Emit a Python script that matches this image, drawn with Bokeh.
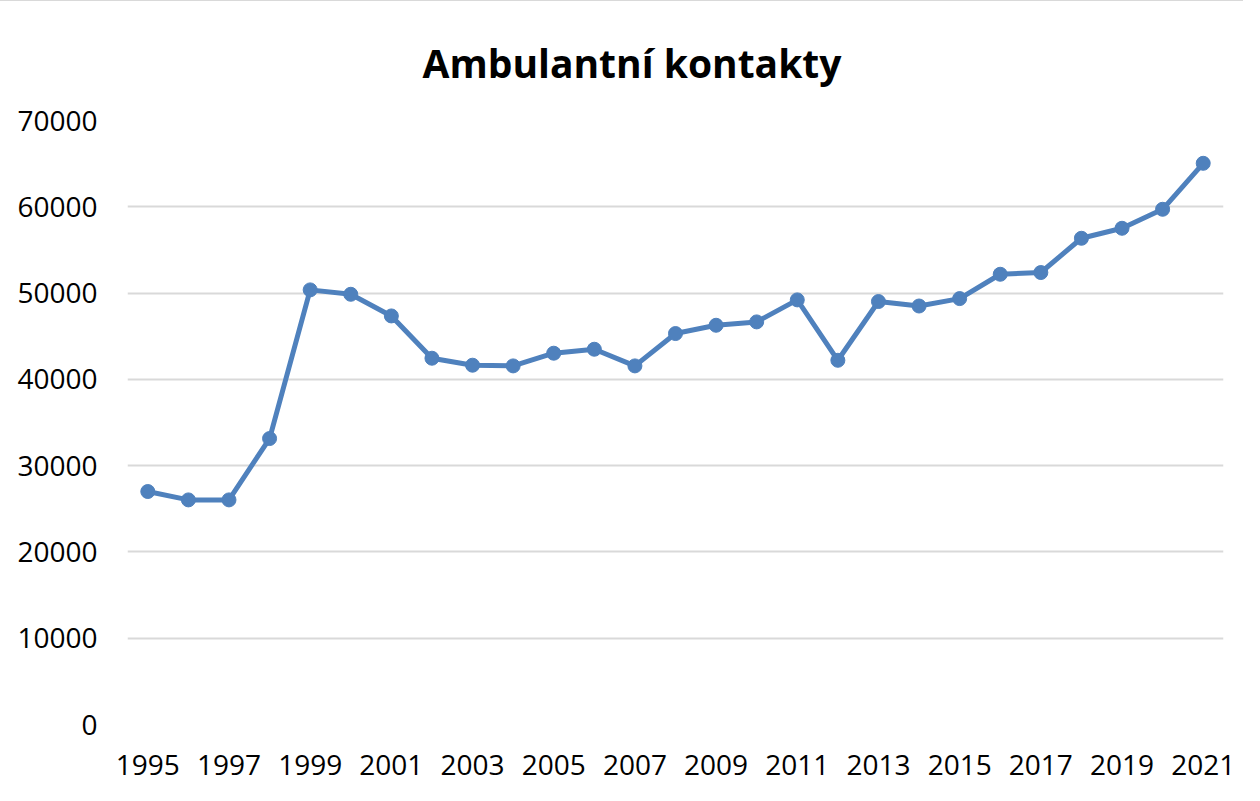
from bokeh.plotting import figure
from bokeh.models import FixedTicker, NumeralTickFormatter, Title, ColumnDataSource, Range1d
from bokeh.embed import file_html
from bokeh.resources import INLINE

years = list(range(1995, 2022))
values = [27000, 26030, 26030, 33140, 50370, 49860, 47350, 42450, 41640, 41560,
          43030, 43490, 41560, 45310, 46270, 46660, 49210, 42210, 49020, 48500,
          49360, 52180, 52380, 56350, 57510, 59710, 65040]
x_ticks = list(range(1995, 2022, 2))
y_ticks = list(range(0, 70001, 10000))
title_text = "Ambulantní kontakty"

src = ColumnDataSource(dict(year=years, value=values))

p = figure(width=1245, height=784, output_backend="svg", toolbar_location=None,
           x_range=Range1d(1994.5, 2021.5), y_range=Range1d(0, 70000),
           min_border_left=128, min_border_right=21, min_border_top=119, min_border_bottom=61)
p.title = Title(text=title_text, text_font="Open Sans", text_font_size="39px",
                text_font_style="bold", text_color="#000000", align="left",
                offset=295, standoff=64)

p.line("year", "value", source=src, line_color="#4f81bd", line_width=5)
p.scatter("year", "value", source=src, size=14, fill_color="#4f81bd", line_color="#4f81bd")

p.outline_line_color = None
p.background_fill_color = "white"
p.border_fill_color = "white"

p.xgrid.grid_line_color = None
p.ygrid.grid_line_color = "#d9d9d9"
p.ygrid.grid_line_width = 2
p.ygrid.ticker = FixedTicker(ticks=y_ticks)

for ax in (p.xaxis[0], p.yaxis[0]):
    ax.axis_line_color = None
    ax.major_tick_line_color = None
    ax.minor_tick_line_color = None
    ax.major_label_text_font = "Open Sans"
    ax.major_label_text_font_size = "28px"
    ax.major_label_text_color = "#000000"

p.xaxis[0].ticker = FixedTicker(ticks=x_ticks)
p.xaxis[0].major_label_standoff = 24
p.yaxis[0].ticker = FixedTicker(ticks=y_ticks)
p.yaxis[0].formatter = NumeralTickFormatter(format="0")
p.yaxis[0].major_label_standoff = 24

p.styles = {"border-left": "1px solid #d9d9d9", "border-top": "1px solid #d9d9d9",
            "margin-left": "-2px"}

open("out.html", "w").write(file_html(p, INLINE))
